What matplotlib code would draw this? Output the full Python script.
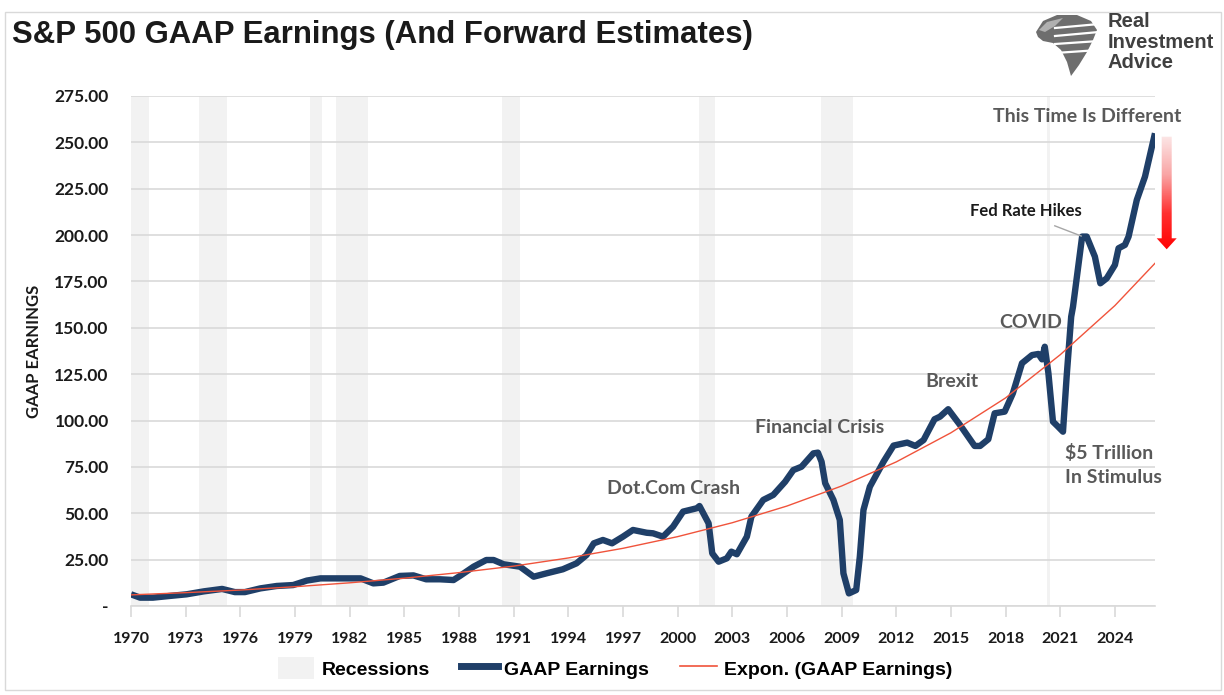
import numpy as np
import matplotlib
matplotlib.use("Agg")
import matplotlib.pyplot as plt
from matplotlib.patches import Patch, Polygon, Rectangle
from matplotlib.lines import Line2D
from matplotlib.colors import LinearSegmentedColormap
from matplotlib.ticker import FuncFormatter

OUT_PATH = "out.png"

# GAAP earnings (decimal year, $/share)
YEARS = [
    1970.0, 1970.5, 1971.2, 1972.1, 1973.05, 1974.0, 1975.0, 1975.7, 1976.25,
    1977.1, 1978.0, 1978.9, 1979.65, 1980.4, 1981.3, 1982.6, 1983.3, 1983.85,
    1984.75, 1985.5, 1986.2, 1986.95, 1987.7, 1988.05, 1988.8, 1989.5, 1989.9,
    1990.45, 1991.35, 1992.1, 1992.8, 1993.7, 1994.45, 1995.0, 1995.4, 1995.9,
    1996.4, 1997.0, 1997.55, 1998.3, 1998.65, 1999.2, 1999.75, 2000.3, 2001.05,
    2001.2, 2001.7, 2001.9, 2002.25, 2002.7, 2002.95, 2003.25, 2003.8, 2004.05,
    2004.7, 2005.25, 2005.9, 2006.35, 2006.8, 2007.45, 2007.7, 2007.9, 2008.1,
    2008.55, 2008.9, 2009.1, 2009.4, 2009.8, 2010.0, 2010.2, 2010.55, 2011.3,
    2011.85, 2012.6, 2013.05, 2013.5, 2014.1, 2014.4, 2014.85, 2015.5, 2016.3,
    2016.6, 2017.05, 2017.4, 2017.95, 2018.4, 2018.9, 2019.45, 2019.8, 2020.0,
    2020.15, 2020.35, 2020.6, 2020.85, 2021.15, 2021.35, 2021.6, 2021.7, 2022.2,
    2022.45, 2022.9, 2023.2, 2023.55, 2024.0, 2024.2, 2024.55, 2024.75, 2025.2,
    2025.65, 2026.2,
]
EARNINGS = [
    6.3, 4.5, 4.5, 5.4, 6.3, 7.9, 9.2, 7.5, 7.5,
    9.5, 10.8, 11.3, 13.7, 14.9, 14.9, 14.9, 12.2, 12.6,
    16.2, 16.5, 14.4, 14.4, 14.0, 16.2, 21.2, 24.8, 24.8,
    22.5, 21.2, 15.8, 17.6, 19.8, 23.0, 27.5, 33.8, 35.6,
    33.8, 37.4, 41.0, 39.5, 39.2, 37.4, 42.8, 50.9, 52.7,
    53.9, 44.6, 28.4, 23.9, 25.7, 29.3, 27.9, 37.4, 48.2,
    57.2, 59.9, 67.0, 73.3, 75.1, 82.3, 82.7, 77.8, 66.2,
    57.2, 46.4, 17.6, 6.8, 8.6, 26.6, 51.8, 64.3, 77.8,
    86.5, 88.1, 86.3, 89.5, 100.7, 102.1, 106.1, 97.6, 86.3,
    86.3, 89.9, 103.9, 104.8, 114.7, 130.9, 135.3, 135.9, 133.0,
    139.8, 125.5, 99.4, 97.0, 94.0, 123.6, 156.0, 161.4, 199.2,
    199.2, 188.4, 174.0, 176.7, 183.9, 192.9, 194.7, 199.2, 218.9,
    231.5, 254.9,
]

# Exponential trend line
TREND_YEARS = [1970, 1973, 1976, 1979, 1982, 1985, 1988, 1991, 1994, 1997,
               2000, 2003, 2006, 2009, 2012, 2015, 2018, 2021, 2024, 2026.2]
TREND = [6.0, 7.2, 8.6, 10.4, 12.5, 15.0, 18.0, 21.5, 25.9, 31.1,
         37.4, 44.9, 53.9, 64.7, 77.7, 93.4, 112.2, 135.5, 162.0, 184.8]

# Recession shading (start, end)
RECESSIONS = [(1970.0, 1971.0), (1973.75, 1975.25), (1979.8, 1980.5),
              (1981.25, 1983.0), (1990.35, 1991.35), (2001.15, 2002.05),
              (2007.85, 2009.6), (2020.25, 2020.45)]

X_TICKS = list(range(1970, 2025, 3))
Y_TICKS = list(range(0, 276, 25))

NAVY = "#1F3F68"
RED_TREND = "#F0533B"
SHADE = "#F2F2F2"
GRID = "#D9D9D9"
NOTE = "#595959"

W, H = 1224, 695
fig = plt.figure(figsize=(W / 100, H / 100), dpi=100)
fig.patches.append(Rectangle((5 / W, 1 - 690 / H), 1216 / W, 678 / H,
                             transform=fig.transFigure, fill=False,
                             edgecolor=GRID, linewidth=1))

ax = fig.add_axes([131 / W, 1 - 606 / H, 1024 / W, 510 / H])

for start, end in RECESSIONS:
    ax.axvspan(start, end, color=SHADE, zorder=0, linewidth=0)

ax.plot(TREND_YEARS, TREND, color=RED_TREND, linewidth=1.0, zorder=3)
ax.plot(YEARS, EARNINGS, color=NAVY, linewidth=4.6, zorder=2,
        solid_joinstyle="round", solid_capstyle="butt")

ax.set_xlim(1970, 2026.2)
ax.set_ylim(0, 275)
ax.set_yticks(Y_TICKS)
ax.yaxis.set_major_formatter(FuncFormatter(lambda v, _: "-" if v == 0 else f"{v:.2f}"))
ax.set_xticks(X_TICKS)
ax.grid(axis="y", color=GRID, linewidth=1.2, zorder=1)
ax.set_axisbelow(True)
for side in ("top", "right", "left"):
    ax.spines[side].set_visible(False)
ax.spines["bottom"].set_color(GRID)
ax.spines["bottom"].set_linewidth(1.2)
ax.tick_params(axis="y", length=0, pad=16, labelsize=12.5, labelcolor="#1a1a1a")
ax.tick_params(axis="x", length=8, color=GRID, width=1.2, pad=11,
               labelsize=11.5, labelcolor="#1a1a1a")
for lab in ax.get_yticklabels() + ax.get_xticklabels():
    lab.set_fontfamily("Lato")
    lab.set_fontweight("bold")

ax.set_ylabel("GAAP EARNINGS", fontfamily="Lato", fontweight="bold",
              fontsize=12, color="#1a1a1a", labelpad=9)

note = dict(fontfamily="Lato", fontweight="bold", color=NOTE, fontsize=14,
            ha="center", va="center")
ax.text(2022.5, 264, "This Time Is Different", **note)
ax.text(2019.4, 152.6, "COVID", **note)
ax.text(2015.06, 120.8, "Brexit", **note)
ax.text(2007.8, 96.5, "Financial Crisis", **note)
ax.text(1999.75, 63.1, "Dot.Com Crash", **note)
ax.text(2021.26, 87.5, "$5 Trillion\nIn Stimulus", fontfamily="Lato",
        fontweight="bold", color=NOTE, fontsize=14, ha="left", va="top",
        linespacing=1.55)
ax.text(2019.1, 213, "Fed Rate Hikes", fontfamily="Lato", fontweight="bold",
        color="#1a1a1a", fontsize=12, ha="center", va="center")
ax.plot([2020.7, 2022.15], [205, 199.5], color="#A6A6A6", linewidth=1,
        zorder=4)

# Gradient arrow to the right of the plot
ax_arrow = fig.add_axes([1154 / W, 1 - 252 / H, 26 / W, 116 / H])
ax_arrow.set_xlim(0, 26)
ax_arrow.set_ylim(116, 0)
ax_arrow.axis("off")
fade = LinearSegmentedColormap.from_list(
    "fade", ["#FCE6E6", "#F9A5A5", "#FF3030", "#FF0000"])
grad = np.linspace(0, 1, 200).reshape(-1, 1)
img = ax_arrow.imshow(grad, cmap=fade, extent=[0, 26, 116, 0], aspect="auto")
arrow = Polygon([(7.7, 0.7), (17.7, 0.7), (17.7, 102.3), (22.7, 102.3),
                 (12.7, 113.3), (2.7, 102.3), (7.7, 102.3)],
                closed=True, transform=ax_arrow.transData, facecolor="none",
                edgecolor="none")
ax_arrow.add_patch(arrow)
img.set_clip_path(arrow)

# Logo: rough eagle-head mark plus wordmark
ax_logo = fig.add_axes([1033 / W, 1 - 78 / H, 70 / W, 66 / H])
ax_logo.set_xlim(0, 70)
ax_logo.set_ylim(66, 0)
ax_logo.axis("off")
ax_logo.add_patch(Polygon([(3, 20), (10, 9), (24, 3), (44, 3), (58, 9),
                           (64, 18), (60, 28), (54, 40), (46, 53), (38, 64),
                           (34, 50), (28, 38), (20, 31), (10, 29), (5, 25)],
                          closed=True, facecolor="#6E6E6E", edgecolor="none"))
for y0, y1 in [(12, 16), (20, 24), (28, 33), (37, 42)]:
    ax_logo.plot([22, 66], [y0 + 4, y1 - 4], color="white", linewidth=1.6)
ax_logo.add_patch(Polygon([(6, 18), (14, 10), (30, 6), (22, 14), (12, 20)],
                          closed=True, facecolor="#B0B0B0", edgecolor="none"))
fig.text(1108 / W, 1 - 12 / H, "Real\nInvestment\nAdvice",
         fontfamily="Liberation Sans", fontweight="bold", fontsize=14.5,
         color="#404040", ha="left", va="top", linespacing=1.1)

fig.text(12 / W, 1 - 35 / H, "S&P 500 GAAP Earnings (And Forward Estimates)",
         fontfamily="Liberation Sans", fontweight="bold", fontsize=22.4,
         color="#1a1a1a", ha="left", va="center")

handles = [
    Patch(facecolor=SHADE, edgecolor="none", label="Recessions"),
    Line2D([0], [0], color=NAVY, linewidth=5, label="GAAP Earnings"),
    Line2D([0], [0], color=RED_TREND, linewidth=1.2,
           label="Expon. (GAAP Earnings)"),
]
fig.legend(handles=handles, loc="center", bbox_to_anchor=(615 / W, 1 - 668 / H),
           ncol=3, frameon=False, handlelength=1.9, handleheight=1.3,
           columnspacing=1.6, handletextpad=0.35,
           prop={"family": "Liberation Sans", "weight": "bold", "size": 14})

fig.savefig(OUT_PATH, dpi=100)
plt.close(fig)
